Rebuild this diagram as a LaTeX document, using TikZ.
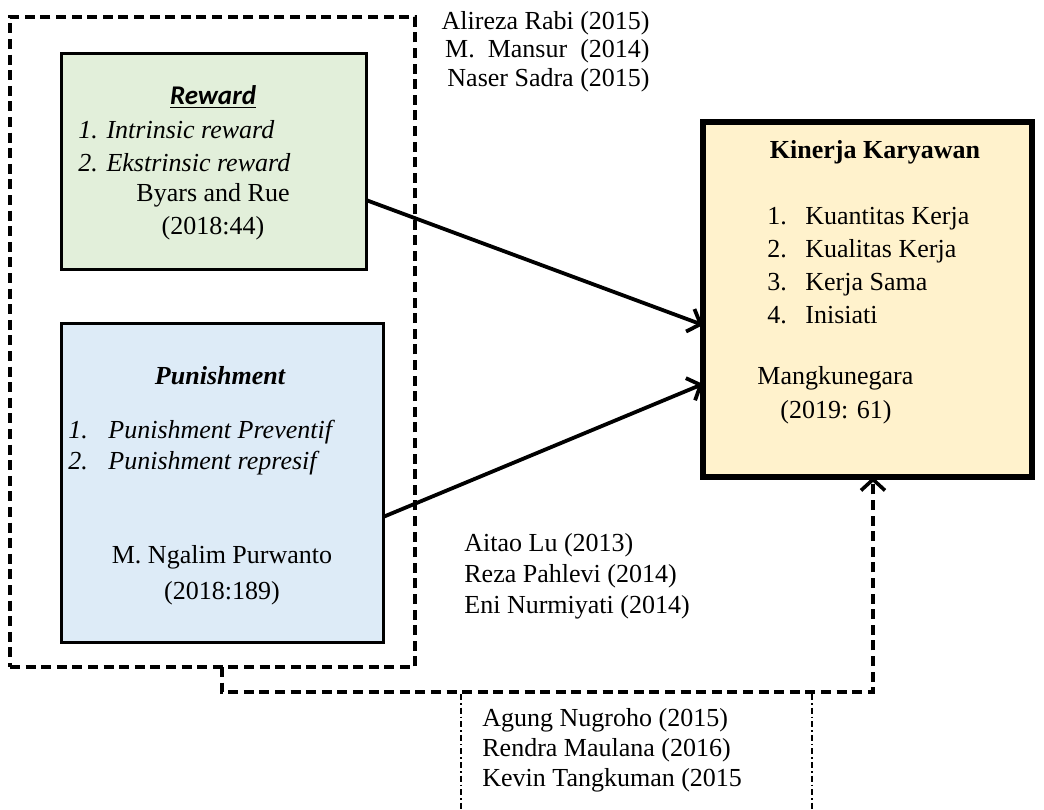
\documentclass[tikz,border=0pt]{standalone}
\usepackage{fontspec}
\setmainfont{Liberation Serif}
\newfontfamily\calfont{Carlito}
\usetikzlibrary{arrows.meta}

\definecolor{rewardgreen}{HTML}{E2EFDA}
\definecolor{punishblue}{HTML}{DDEBF7}
\definecolor{kinerjayellow}{HTML}{FFF2CC}

\tikzset{
  box/.style={draw, rectangle, inner sep=0pt, outer sep=0pt},
  txt/.style={inner sep=0pt, font=\fontsize{13}{16.5}\selectfont},
  dashline/.style={line width=1.8pt, dash pattern=on 5pt off 2.8pt},
  dotline/.style={line width=0.6pt, dash pattern=on 3pt off 1.5pt on 0.8pt off 1.5pt},
}

\begin{document}
\begin{tikzpicture}[x=0.5pt, y=-0.5pt, >={Straight Barb[length=5.5pt,width=12pt]}]
        \useasboundingbox (0,0) rectangle (1044,809);
        \node[box,dashline,minimum width=202.5pt,minimum height=325pt] (group) at (212.5,342) {};
        \node[box,line width=1.5pt,fill=rewardgreen,minimum width=152.5pt,minimum height=108pt] (reward) at (213.5,161) {};
        \node[box,line width=1.5pt,fill=punishblue,minimum width=161pt,minimum height=159.5pt] (punish) at (222,482.5) {};
        \node[box,line width=2.6pt,fill=kinerjayellow,minimum width=164.5pt,minimum height=177.5pt] (kinerja) at (867.5,299.5) {};

        \node[txt,font=\calfont\fontsize{13.5}{16}\selectfont\bfseries\itshape] (rwtitle) at (213,97) {\underline{Reward}};
        \node[txt,anchor=west,align=left] (rwlist) at (78,146.5) {\textit{1. Intrinsic reward}\\\textit{2. Ekstrinsic reward}};
        \node[txt,align=center] (rwref) at (213,211.5) {Byars and Rue\\(2018:44)};

        \node[txt,font=\fontsize{13}{16}\selectfont\bfseries\itshape] (pntitle) at (220,376) {Punishment};
        \node[txt,anchor=west,align=left,font=\fontsize{13}{15.5}\selectfont\itshape] (pnlist) at (68,447.5) {\makebox[20pt][l]{1.}Punishment Preventif\\\makebox[20pt][l]{2.}Punishment represif};
        \node[txt,align=center,font=\fontsize{13}{18}\selectfont] (pnref) at (222,575) {M. Ngalim Purwanto\\(2018:189)};

        \node[txt,font=\fontsize{13}{16}\selectfont\bfseries] (kntitle) at (875,152) {Kinerja Karyawan};
        \node[txt,anchor=west,align=left] (knlist) at (767,265.5) {\makebox[19pt][l]{1.}Kuantitas Kerja\\\makebox[19pt][l]{2.}Kualitas Kerja\\\makebox[19pt][l]{3.}Kerja Sama\\\makebox[19pt][l]{4.}Inisiati};
        \node[txt,anchor=west,align=left,font=\fontsize{13}{17}\selectfont] (knref) at (757,395) {Mangkunegara\\\hspace{11.5pt}(2019: 61)};

        \node[txt,anchor=east,align=right,font=\fontsize{13}{14.25}\selectfont] (topref) at (650,51.5) {Alireza Rabi (2015)\\M.~~Mansur~~(2014)\\Naser Sadra (2015)};
        \node[txt,anchor=west,align=left,font=\fontsize{13}{15.5}\selectfont] (midref) at (464,576) {Aitao Lu (2013)\\Reza Pahlevi (2014)\\Eni Nurmiyati (2014)};
        \node[txt,anchor=west,align=left,font=\fontsize{13}{15}\selectfont] (botref) at (482,750) {Agung Nugroho (2015)\\Rendra Maulana (2016)\\Kevin Tangkuman (2015};

        \draw[->,line width=1.9pt] ([shift={(0,39)}]reward.east) -- ([shift={(0,25.5)}]kinerja.west);
        \draw[->,line width=1.9pt] ([shift={(0,34.5)}]punish.east) -- ([shift={(0,84.5)}]kinerja.west);
        \draw[->,dashline] ([shift={(9.5,0)}]group.south) -- ++(0,25) -| ([shift={(5.5,0)}]kinerja.south);

        \draw[dotline] (461,694) -- (461,809);
        \draw[dotline] (812,694) -- (812,809);
    \end{tikzpicture}
\end{document}
